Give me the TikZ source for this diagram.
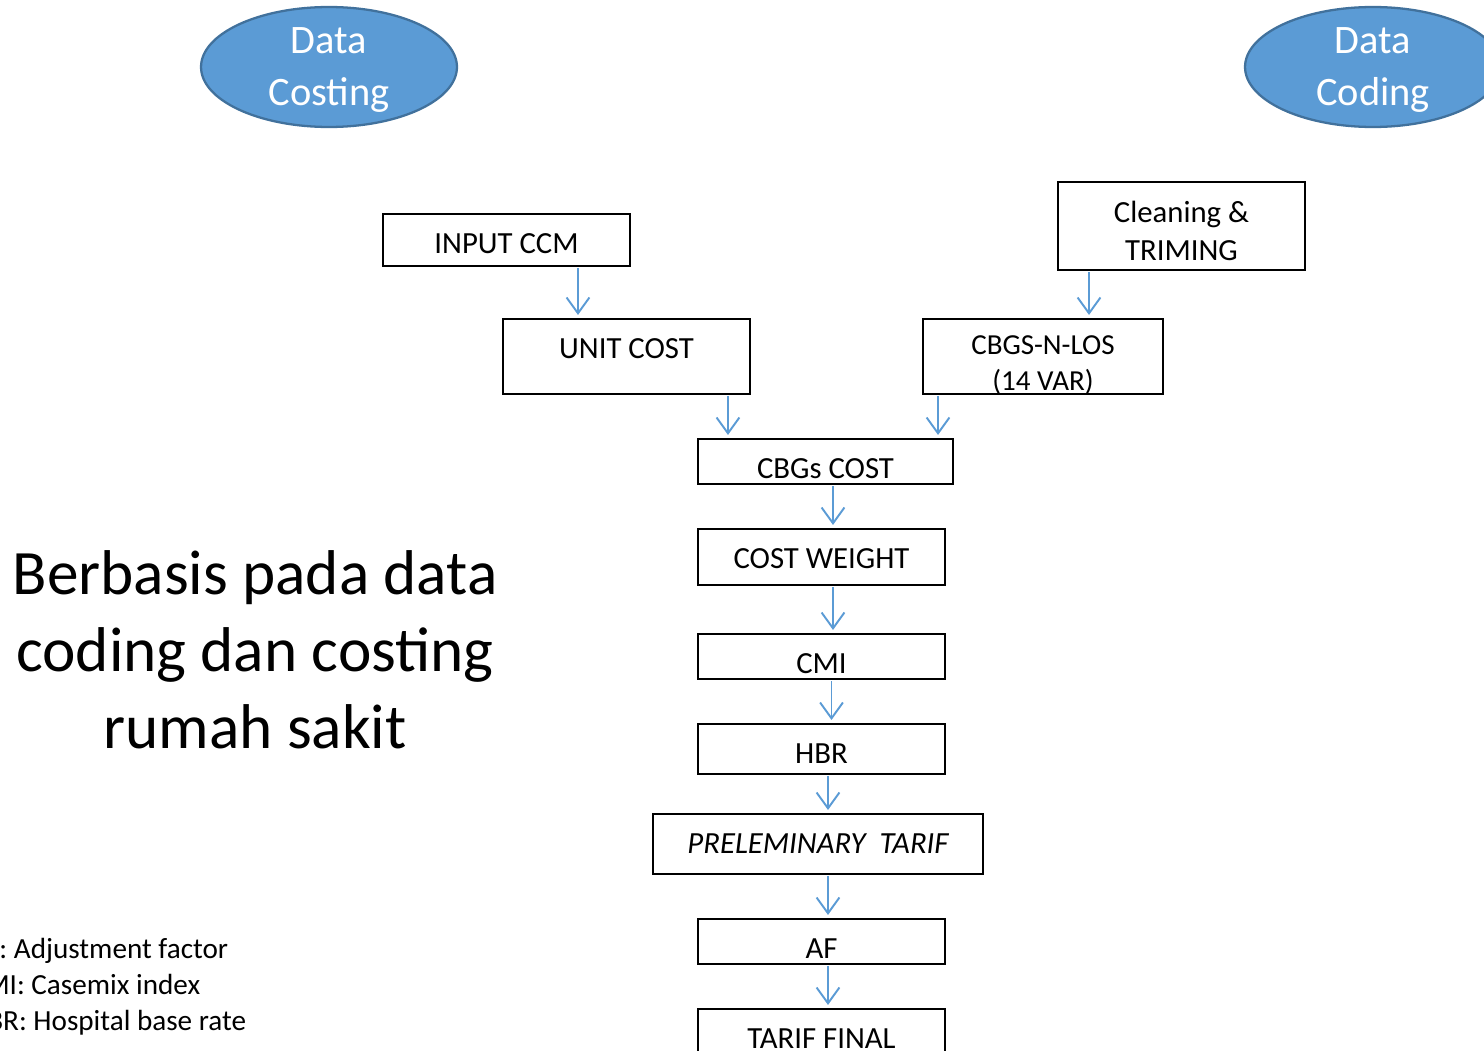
\documentclass[tikz,border=0pt]{standalone}
\usepackage{fontspec}
\setmainfont{Carlito}
\usetikzlibrary{shapes.geometric, arrows.meta, positioning, calc}
\definecolor{ovalfill}{HTML}{5B9BD5}
\definecolor{ovaledge}{HTML}{41719C}
\definecolor{arrblue}{HTML}{5B9BD5}

\begin{document}
\begin{tikzpicture}[
    x=0.02cm, y=-0.02cm,
    oval/.style={ellipse, draw=ovaledge, line width=1.3pt, fill=ovalfill, minimum width=5.12cm, minimum height=2.4cm, inner sep=0pt},
    ovaltxt/.style={align=center, inner sep=0pt, text=white, font=\fontsize{23}{29.5}\selectfont},
    box/.style={rectangle, draw=black, line width=1.6pt, minimum width=4.94cm, inner sep=0pt},
    txt/.style={align=center, inner sep=0pt, font=\fontsize{17.5}{21.6}\selectfont},
    edge/.style={-{Straight Barb[length=9pt,width=13pt]}, line width=1.1pt, draw=arrblue, shorten <=0.6pt, shorten >=1.5pt}
]
\useasboundingbox (0,0) rectangle (1484,1051);

% Sources
\node[oval, label={[ovaltxt,yshift=-0.06cm]center:Data\\Costing}] (costing) at (329,67) {};
\node[oval, label={[ovaltxt,yshift=-0.06cm]center:Data\\Coding}] (coding) at (1373,67) {};

% Boxes
\node[box, minimum height=1.04cm, label={[txt,yshift=-0.08cm]center:INPUT CCM}] (inccm) at (506.5,240) {};
\node[box, minimum height=1.76cm, label={[txt,yshift=-0.1cm]center:Cleaning \&\\TRIMING}] (clean) at (1181.5,226) {};
\node[box, minimum height=1.5cm, label={[txt,yshift=0.15cm]center:UNIT COST}] (unitcost) at (626.5,356.5) {};
\node[box, minimum width=4.8cm, minimum height=1.5cm, label={[txt,font=\fontsize{16.5}{20.5}\selectfont,yshift=-0.17cm]center:CBGS-N-LOS\\(14 VAR)}] (cbgslos) at (1043,356.5) {};
\node[box, minimum width=5.1cm, minimum height=0.9cm, label={[txt,yshift=-0.15cm]center:CBGs COST}] (cbgscost) at (825.5,461.5) {};
\node[box, minimum height=1.12cm, label={[txt,yshift=-0.04cm]center:COST WEIGHT}] (costw) at (821.5,557) {};
\node[box, minimum height=0.9cm, label={[txt,yshift=-0.15cm]center:CMI}] (cmi) at (821.5,656.5) {};
\node[box, minimum height=1.0cm, label={[txt,yshift=-0.1cm]center:HBR}] (hbr) at (821.5,749) {};
\node[box, minimum width=6.6cm, minimum height=1.2cm, label={[txt]center:\itshape PRELEMINARY\ \ TARIF}] (prelim) at (818,844) {};
\node[box, minimum height=0.9cm, label={[txt,yshift=-0.15cm]center:AF}] (af) at (821.5,941.5) {};
\node[box, minimum height=0.9cm, label={[txt,yshift=-0.15cm]center:TARIF FINAL}] (final) at (821.5,1031.5) {};

% Side texts
\node[align=center, font=\fontsize{36}{43.8}\selectfont] (basis) at (255,650) {Berbasis pada data\\coding dan costing\\rumah sakit};
\node[anchor=west, align=left, font=\fontsize{16.6}{20.5}\selectfont] (legend) at (-37,987) {AF: Adjustment factor\\CMI: Casemix index\\HBR: Hospital base rate};

% Edges
\draw[edge] ([xshift=1.43cm]inccm.south) -- ([xshift=1.43cm]inccm.south |- unitcost.north);
\draw[edge] ([xshift=-1.85cm]clean.south) -- ([xshift=-1.85cm]clean.south |- cbgslos.north);
\draw[edge] ([xshift=2.03cm]unitcost.south) -- ([xshift=2.03cm]unitcost.south |- cbgscost.north);
\draw[edge] ([xshift=-2.1cm]cbgslos.south) -- ([xshift=-2.1cm]cbgslos.south |- cbgscost.north);
\draw[edge] ([xshift=0.15cm]cbgscost.south) -- ([xshift=0.15cm]cbgscost.south |- costw.north);
\draw[edge] ([xshift=0.23cm]costw.south) -- ([xshift=0.23cm]costw.south |- cmi.north);
\draw[edge] ([xshift=0.2cm]cmi.south) -- ([xshift=0.2cm]cmi.south |- hbr.north);
\draw[edge] ([xshift=0.13cm]hbr.south) -- ([xshift=0.13cm]hbr.south |- prelim.north);
\draw[edge] ([xshift=0.2cm]prelim.south) -- ([xshift=0.2cm]prelim.south |- af.north);
\draw[edge] ([xshift=0.13cm]af.south) -- ([xshift=0.13cm]af.south |- final.north);

\end{tikzpicture}
\end{document}
